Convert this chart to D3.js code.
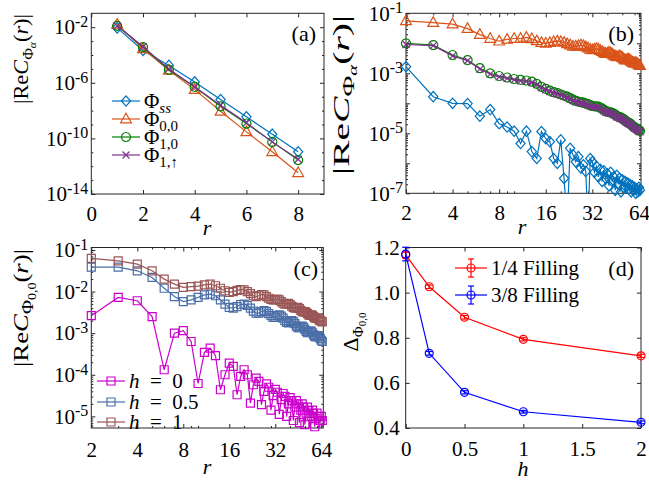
<!DOCTYPE html>
<html>
<head>
<meta charset="utf-8">
<script src="https://cdn.jsdelivr.net/npm/d3@7"></script>
<style>
body { margin: 0; background: #fff; }
svg { display: block; }
svg text { font-family: 'Liberation Serif', 'DejaVu Serif', serif; }
</style>
</head>
<body>
<script>
var W = 649, H = 485;
var FONT = "Liberation Serif, DejaVu Serif, serif";
var AXIS_COLOR = "#262626";

// ---- panel (a): log10 |Re C| vs r ----
var aR = [1, 2, 3, 4, 5, 6, 7, 8];
var aSsLog  = [-2.05, -3.67, -4.75, -5.94, -7.21, -8.45, -9.70, -10.96];
var a00Log  = [-1.80, -3.55, -5.10, -6.49, -8.05, -9.53, -10.96, -12.47];
var a10Log  = [-1.90, -3.43, -5.06, -6.30, -7.69, -8.93, -10.25, -11.56];
var a1UpLog = [-1.90, -3.40, -5.00, -6.30, -7.62, -8.88, -10.25, -11.50];

// ---- panel (b) and (c): r = 2 .. 65 ----
var bcR = [2, 3, 4, 5, 6, 7, 8, 9, 10, 11,
  12, 13, 14, 15, 16, 17, 18, 19, 20, 21,
  22, 23, 24, 25, 26, 27, 28, 29, 30, 31,
  32, 33, 34, 35, 36, 37, 38, 39, 40, 41,
  42, 43, 44, 45, 46, 47, 48, 49, 50, 51,
  52, 53, 54, 55, 56, 57, 58, 59, 60, 61,
  62, 63, 64, 65];

var bSsLog = [-2.78, -3.78, -4.0, -4.01, -4.43, -4.21, -4.68, -4.79, -4.93, -5.34,
  -4.93, -5.61, -5.84, -4.94, -5.18, -5.28, -5.84, -6.0, -5.22, -6.5,
  -8.0, -5.5, -5.72, -5.95, -5.78, -6.16, -6.05, -6.27, -8.0, -5.84,
  -5.95, -6.3, -6.1, -6.45, -6.2, -6.6, -6.25, -6.5, -6.35, -6.75,
  -6.3, -6.6, -6.45, -6.9, -6.4, -6.7, -6.5, -6.95, -6.55, -6.8,
  -6.6, -7.3, -6.65, -6.85, -6.7, -6.95, -6.75, -6.9, -6.8, -7.0,
  -6.85, -6.95, -6.8, -6.9];
var b00Log = [-1.25, -1.31, -1.36, -1.51, -1.71, -1.84, -1.93, -1.87, -1.84, -1.84,
  -1.8, -1.85, -1.92, -1.98, -2.0, -1.98, -1.95, -1.93, -1.95, -1.97,
  -2.02, -2.06, -2.1, -2.1, -2.08, -2.06, -2.08, -2.12, -2.16, -2.2,
  -2.22, -2.2, -2.18, -2.2, -2.24, -2.28, -2.32, -2.34, -2.33, -2.3,
  -2.32, -2.36, -2.4, -2.43, -2.45, -2.44, -2.42, -2.44, -2.48, -2.52,
  -2.55, -2.56, -2.54, -2.53, -2.56, -2.6, -2.63, -2.65, -2.66, -2.65,
  -2.66, -2.69, -2.72, -2.74];
var b10Log = [-2.0, -2.06, -2.39, -2.56, -2.83, -3.0, -3.09, -3.14, -3.19, -3.22,
  -3.24, -3.28, -3.35, -3.45, -3.52, -3.58, -3.63, -3.66, -3.7, -3.74,
  -3.78, -3.83, -3.88, -3.92, -3.94, -3.96, -3.98, -4.0, -4.03, -4.06,
  -4.09, -4.1, -4.1, -4.11, -4.14, -4.18, -4.22, -4.26, -4.28, -4.29,
  -4.3, -4.32, -4.35, -4.38, -4.42, -4.44, -4.46, -4.48, -4.5, -4.53,
  -4.56, -4.6, -4.63, -4.65, -4.67, -4.7, -4.74, -4.78, -4.8, -4.82,
  -4.85, -4.88, -4.9, -4.92];
var b1UpLog = [-2.04, -2.08, -2.42, -2.58, -2.86, -3.03, -3.12, -3.17, -3.22, -3.25,
  -3.27, -3.31, -3.38, -3.48, -3.55, -3.61, -3.66, -3.69, -3.73, -3.77,
  -3.81, -3.86, -3.91, -3.95, -3.97, -3.99, -4.01, -4.03, -4.06, -4.09,
  -4.12, -4.13, -4.13, -4.14, -4.17, -4.21, -4.25, -4.29, -4.31, -4.32,
  -4.33, -4.35, -4.38, -4.41, -4.45, -4.47, -4.49, -4.51, -4.53, -4.56,
  -4.59, -4.63, -4.66, -4.68, -4.7, -4.73, -4.77, -4.81, -4.83, -4.85,
  -4.88, -4.91, -4.93, -4.95];

var cH0Log = [-2.58, -2.14, -2.22, -2.6, -3.88, -3.0, -2.94, -3.2, -4.21, -3.46,
  -3.36, -3.54, -4.36, -4.0, -3.72, -3.8, -4.48, -4.04, -3.88, -4.0,
  -4.68, -4.24, -4.08, -4.16, -4.72, -4.4, -4.22, -4.3, -4.85, -4.5,
  -4.35, -4.42, -4.95, -4.6, -4.45, -4.52, -5.0, -4.7, -4.55, -4.62,
  -5.1, -4.78, -4.62, -4.7, -5.15, -4.85, -4.7, -4.78, -5.2, -4.92,
  -4.78, -4.86, -5.4, -5.0, -4.85, -4.93, -5.25, -5.05, -4.92, -5.0,
  -5.5, -5.1, -5.0, -5.1];
var cH05Log = [-1.41, -1.41, -1.5, -1.66, -1.92, -2.12, -2.24, -2.2, -2.14, -2.08,
  -2.06, -2.1, -2.2, -2.3, -2.38, -2.4, -2.36, -2.31, -2.3, -2.33,
  -2.4, -2.47, -2.52, -2.52, -2.48, -2.46, -2.48, -2.53, -2.58, -2.62,
  -2.62, -2.58, -2.56, -2.59, -2.64, -2.7, -2.74, -2.75, -2.72, -2.7,
  -2.72, -2.77, -2.83, -2.87, -2.87, -2.84, -2.83, -2.86, -2.91, -2.96,
  -2.99, -2.98, -2.95, -2.95, -2.99, -3.04, -3.08, -3.09, -3.07, -3.06,
  -3.09, -3.13, -3.17, -3.2];
var cH1Log = [-1.2, -1.26, -1.34, -1.5, -1.7, -1.82, -1.9, -1.88, -1.87, -1.84,
  -1.82, -1.86, -1.92, -1.98, -2.02, -2.0, -1.97, -1.95, -1.96, -2.0,
  -2.05, -2.1, -2.12, -2.1, -2.07, -2.08, -2.12, -2.16, -2.19, -2.2,
  -2.2, -2.18, -2.2, -2.24, -2.28, -2.3, -2.29, -2.28, -2.31, -2.35,
  -2.38, -2.4, -2.39, -2.38, -2.41, -2.45, -2.48, -2.49, -2.48, -2.5,
  -2.53, -2.56, -2.57, -2.56, -2.57, -2.6, -2.63, -2.64, -2.63, -2.65,
  -2.68, -2.7, -2.71, -2.73];

// ---- panel (d) ----
var dH = [0, 0.2, 0.5, 1, 2];
var dQuarter = [1.167, 1.026, 0.891, 0.793, 0.720];
var dQuarterErr = [0.012, 0.008, 0.008, 0.007, 0.007];
var dThreeEighth = [1.171, 0.731, 0.558, 0.472, 0.425];
var dThreeEighthErr = [0.03, 0.008, 0.007, 0.006, 0.006];

var COL = {
    blue: "#0072BD", orange: "#D95319", green: "#008000", purple: "#7E2F8E",
    magenta: "#CC00CC", slate: "#4A6EA8", brown: "#9A5656",
    red: "#FF0000", pureBlue: "#0000FF"
};

var MARKERS = {
    diamond: "M0,-5.2L4.6,0L0,5.2L-4.6,0Z",
    triangle: "M0,-5.8L5.4,3.8L-5.4,3.8Z",
    circle: d3.symbol(d3.symbolCircle, 64)(),
    cross: "M-3.5,-3.5L3.5,3.5M-3.5,3.5L3.5,-3.5",
    square: "M-4,-4H4V4H-4Z",
    smallCircle: d3.symbol(d3.symbolCircle, 50)()
};

function pow10(arr) { return arr.map(function(e) { return Math.pow(10, e); }); }

var svg = d3.select("body").append("svg").attr("width", W).attr("height", H)
    .attr("font-family", FONT);

function styleAxis(sel) {
    sel.attr("font-family", FONT).attr("font-size", 21).style("color", AXIS_COLOR);
    sel.select(".domain").remove();
    sel.selectAll(".tick text").attr("fill", "#000");
}

function supLabels(sel) {
    sel.selectAll(".tick text").each(function(d) {
        var t = d3.select(this);
        if (t.text() === "") return;
        t.text(null);
        t.append("tspan").text("10");
        t.append("tspan").attr("dy", "-0.45em").attr("font-size", 16)
            .text(String(Math.round(Math.log10(d))));
    });
}

// frame with inward ticks on all four sides
function makeFrame(id, x, y, cfg) {
    var g = svg.append("g");
    var x0 = x.range()[0], x1 = x.range()[1], y0 = y.range()[0], y1 = y.range()[1];
    g.append("clipPath").attr("id", id).append("rect")
        .attr("x", x0).attr("y", y1).attr("width", x1 - x0).attr("height", y0 - y1);

    var bot = g.append("g").attr("transform", "translate(0," + y0 + ")")
        .call(d3.axisBottom(x).tickValues(cfg.xTicks).tickSize(-4).tickPadding(cfg.padX).tickFormat(cfg.xFmt));
    styleAxis(bot);
    g.append("g").attr("transform", "translate(0," + y1 + ")")
        .call(d3.axisTop(x).tickValues(cfg.xTicks).tickSize(-4).tickFormat("")).call(styleAxis);
    var left = g.append("g").attr("transform", "translate(" + x0 + ",0)")
        .call(d3.axisLeft(y).tickValues(cfg.yTicks).tickSize(-4).tickPadding(cfg.padY).tickFormat(cfg.yFmt));
    styleAxis(left);
    if (cfg.yLog) supLabels(left);
    g.append("g").attr("transform", "translate(" + x1 + ",0)")
        .call(d3.axisRight(y).tickValues(cfg.yTicks).tickSize(-4).tickFormat("")).call(styleAxis);

    if (cfg.xMinor) {
        g.append("g").attr("transform", "translate(0," + y0 + ")")
            .call(d3.axisBottom(x).tickValues(cfg.xMinor).tickSize(-2).tickFormat("")).call(styleAxis);
        g.append("g").attr("transform", "translate(0," + y1 + ")")
            .call(d3.axisTop(x).tickValues(cfg.xMinor).tickSize(-2).tickFormat("")).call(styleAxis);
    }
    if (cfg.yMinor) {
        g.append("g").attr("transform", "translate(" + x0 + ",0)")
            .call(d3.axisLeft(y).tickValues(cfg.yMinor).tickSize(-2).tickFormat("")).call(styleAxis);
        g.append("g").attr("transform", "translate(" + x1 + ",0)")
            .call(d3.axisRight(y).tickValues(cfg.yMinor).tickSize(-2).tickFormat("")).call(styleAxis);
    }
    g.append("rect").attr("x", x0).attr("y", y1).attr("width", x1 - x0).attr("height", y0 - y1)
        .attr("fill", "none").attr("stroke", AXIS_COLOR).attr("stroke-width", 1);
    return g;
}

function drawSeries(g, id, x, y, xs, ys, color, marker) {
    var pts = xs.map(function(r, i) { return [r, ys[i]]; });
    var line = d3.line().x(function(d) { return x(d[0]); }).y(function(d) { return y(d[1]); });
    g.append("path").datum(pts).attr("d", line)
        .attr("fill", "none").attr("stroke", color).attr("stroke-width", 1.2)
        .attr("clip-path", "url(#" + id + ")");
    var yd = y.domain(), lo = Math.min(yd[0], yd[1]), hi = Math.max(yd[0], yd[1]);
    g.append("g").selectAll("path")
        .data(pts.filter(function(d) { return d[1] >= lo && d[1] <= hi; }))
        .enter().append("path")
        .attr("transform", function(d) { return "translate(" + x(d[0]) + "," + y(d[1]) + ")"; })
        .attr("d", MARKERS[marker])
        .attr("fill", "none").attr("stroke", color).attr("stroke-width", 1.2);
}

function decadeMinor(lo, hi) {
    var out = [];
    for (var e = lo; e < hi; e++) {
        for (var m = 2; m <= 9; m++) out.push(m * Math.pow(10, e));
    }
    return out;
}

function panelLetter(x, y, s) {
    svg.append("text").attr("x", x).attr("y", y).attr("text-anchor", "end")
        .attr("font-size", 22).text(s);
}

function xTitle(x, y, s) {
    svg.append("text").attr("x", x).attr("y", y).attr("text-anchor", "middle")
        .attr("font-size", 22).attr("font-style", "italic").text(s);
}

function corrLabel(cx, cy, sub, len, size) {
    var t = svg.append("text").attr("transform", "translate(" + cx + "," + cy + ") rotate(-90)")
        .attr("text-anchor", "middle").attr("font-size", size)
        .attr("textLength", len).attr("lengthAdjust", "spacingAndGlyphs");
    t.append("tspan").text("|Re");
    t.append("tspan").attr("font-style", "italic").text("C");
    t.append("tspan").attr("font-size", size * 0.72).attr("dy", 5).text("Φ");
    t.append("tspan").attr("font-size", size * 0.52).attr("dy", 3)
        .attr("font-style", sub === "α" ? "italic" : "normal").text(sub);
    t.append("tspan").attr("dy", -8).text("(");
    t.append("tspan").attr("font-style", "italic").text("r");
    t.append("tspan").text(")|");
}

function legendEntry(x1, x2, y, color, marker, build) {
    svg.append("line").attr("x1", x1).attr("x2", x2).attr("y1", y).attr("y2", y)
        .attr("stroke", color).attr("stroke-width", 1.2);
    svg.append("path").attr("transform", "translate(" + ((x1 + x2) / 2) + "," + y + ")")
        .attr("d", MARKERS[marker]).attr("fill", "none").attr("stroke", color).attr("stroke-width", 1.2);
    var t = svg.append("text").attr("x", x2 + 4).attr("y", y + 7).attr("font-size", 21);
    build(t);
}

var fmtInt = function(d) { return String(d); };

// ================= (a) =================
var xA = d3.scaleLinear().domain([0, 9]).range([91.3, 324]);
var yA = d3.scaleLog().domain([1e-14, 1e-1]).range([194, 13.3]);
var gA = makeFrame("clipA", xA, yA, {
    xTicks: [0, 2, 4, 6, 8], xFmt: fmtInt, padX: 12,
    yTicks: [1e-2, 1e-6, 1e-10, 1e-14], yFmt: function() { return "x"; }, padY: 3, yLog: true,
    yMinor: [1e-3, 1e-4, 1e-5, 1e-7, 1e-8, 1e-9, 1e-11, 1e-12, 1e-13]
});
drawSeries(gA, "clipA", xA, yA, aR, pow10(aSsLog), COL.blue, "diamond");
drawSeries(gA, "clipA", xA, yA, aR, pow10(a00Log), COL.orange, "triangle");
drawSeries(gA, "clipA", xA, yA, aR, pow10(a10Log), COL.green, "circle");
drawSeries(gA, "clipA", xA, yA, aR, pow10(a1UpLog), COL.purple, "cross");

var legA = [["ss", COL.blue, "diamond", true], ["0,0", COL.orange, "triangle", false],
    ["1,0", COL.green, "circle", false], ["1,↑", COL.purple, "cross", false]];
legA.forEach(function(e, i) {
    legendEntry(112, 140, 101 + i * 18, e[1], e[2], function(t) {
        t.append("tspan").text("Φ");
        t.append("tspan").attr("font-size", 15).attr("dy", 5)
            .attr("font-style", e[3] ? "italic" : "normal").text(e[0]);
    });
});
panelLetter(316, 41, "(a)");
xTitle(207, 235, "r");
corrLabel(28, 59, "α", 90, 21);

// ================= (b) =================
var xB = d3.scaleLog().base(2).domain([2, 66]).range([406, 641]);
var yB = d3.scaleLog().domain([1e-7, 1e-1]).range([193.3, 13.3]);
var logXTicks = [2, 4, 8, 16, 32, 64];
var logXMinor = [3, 5, 6, 7, 9, 10, 20, 30, 40, 50, 60];
var gB = makeFrame("clipB", xB, yB, {
    xTicks: logXTicks, xMinor: logXMinor, xFmt: fmtInt, padX: 12,
    yTicks: [1e-1, 1e-2, 1e-3, 1e-4, 1e-5, 1e-6, 1e-7],
    yFmt: function(d) { return Math.round(Math.log10(d)) % 2 !== 0 ? "x" : ""; },
    padY: 3, yLog: true, yMinor: decadeMinor(-7, -1)
});
drawSeries(gB, "clipB", xB, yB, bcR, pow10(bSsLog), COL.blue, "diamond");
drawSeries(gB, "clipB", xB, yB, bcR, pow10(b00Log), COL.orange, "triangle");
drawSeries(gB, "clipB", xB, yB, bcR, pow10(b10Log), COL.green, "circle");
drawSeries(gB, "clipB", xB, yB, bcR, pow10(b1UpLog), COL.purple, "cross");
panelLetter(634, 41, "(b)");
xTitle(522, 234, "r");
corrLabel(349, 95, "α", 160, 24);

// ================= (c) =================
var xC = d3.scaleLog().base(2).domain([2, 66]).range([91.3, 323.3]);
var yC = d3.scaleLog().domain([Math.pow(10, -5.28), Math.pow(10, -0.94)]).range([428, 247.5]);
var gC = makeFrame("clipC", xC, yC, {
    xTicks: logXTicks, xMinor: logXMinor, xFmt: fmtInt, padX: 14,
    yTicks: [1e-1, 1e-2, 1e-3, 1e-4, 1e-5], yFmt: function() { return "x"; },
    padY: 3, yLog: true, yMinor: decadeMinor(-6, -1).filter(function(v) { return v > Math.pow(10, -5.28); })
});
drawSeries(gC, "clipC", xC, yC, bcR, pow10(cH0Log), COL.magenta, "square");
drawSeries(gC, "clipC", xC, yC, bcR, pow10(cH05Log), COL.slate, "square");
drawSeries(gC, "clipC", xC, yC, bcR, pow10(cH1Log), COL.brown, "square");
[["0", COL.magenta, 381], ["0.5", COL.slate, 402], ["1", COL.brown, 422]].forEach(function(e) {
    legendEntry(97, 125, e[2], e[1], "square", function(t) {
        t.append("tspan").attr("font-style", "italic").text("h");
        t.append("tspan").text("\u2002=\u2002" + e[0]);
    });
});
panelLetter(318, 276, "(c)");
xTitle(207, 474, "r");
corrLabel(28, 308, "0,0", 118, 22);

// ================= (d) =================
var xD = d3.scaleLinear().domain([0, 2]).range([405.7, 641]);
var yD = d3.scaleLinear().domain([0.4, 1.2]).range([428, 247.5]);
var gD = makeFrame("clipD", xD, yD, {
    xTicks: [0, 0.5, 1, 1.5, 2], xFmt: fmtInt, padX: 13,
    yTicks: [0.4, 0.6, 0.8, 1.0, 1.2], yFmt: d3.format(".1f"), padY: 6, yLog: false
});
function drawErr(g, xs, ys, es, color) {
    var eg = g.append("g").attr("stroke", color).attr("stroke-width", 1.2);
    xs.forEach(function(h, i) {
        var cx = xD(h), top = yD(ys[i] + es[i]), bot = yD(ys[i] - es[i]);
        eg.append("line").attr("x1", cx).attr("x2", cx).attr("y1", top).attr("y2", bot);
        eg.append("line").attr("x1", cx - 3.5).attr("x2", cx + 3.5).attr("y1", top).attr("y2", top);
        eg.append("line").attr("x1", cx - 3.5).attr("x2", cx + 3.5).attr("y1", bot).attr("y2", bot);
    });
}
drawSeries(gD, "clipD", xD, yD, dH, dQuarter, COL.red, "smallCircle");
drawErr(gD, dH, dQuarter, dQuarterErr, COL.red);
drawSeries(gD, "clipD", xD, yD, dH, dThreeEighth, COL.pureBlue, "smallCircle");
drawErr(gD, dH, dThreeEighth, dThreeEighthErr, COL.pureBlue);

[["1/4 Filling", COL.red, 268], ["3/8 Filling", COL.pureBlue, 295]].forEach(function(e) {
    legendEntry(455, 487, e[2], e[1], "smallCircle", function(t) { t.text(e[0]); });
    var cx = 471;
    svg.append("line").attr("x1", cx).attr("x2", cx).attr("y1", e[2] - 9).attr("y2", e[2] + 9)
        .attr("stroke", e[1]).attr("stroke-width", 1.2);
    svg.append("line").attr("x1", cx - 3).attr("x2", cx + 3).attr("y1", e[2] - 9).attr("y2", e[2] - 9)
        .attr("stroke", e[1]).attr("stroke-width", 1.2);
    svg.append("line").attr("x1", cx - 3).attr("x2", cx + 3).attr("y1", e[2] + 9).attr("y2", e[2] + 9)
        .attr("stroke", e[1]).attr("stroke-width", 1.2);
});
panelLetter(634, 276, "(d)");
xTitle(523, 476, "h");

var dl = svg.append("text").attr("transform", "translate(358,332) rotate(-90)")
    .attr("text-anchor", "middle").attr("font-size", 22);
dl.append("tspan").text("Δ");
dl.append("tspan").attr("font-size", 15).attr("dy", 5).text("Φ");
dl.append("tspan").attr("font-size", 11).attr("dy", 3).text("0,0");
</script>
</body>
</html>
